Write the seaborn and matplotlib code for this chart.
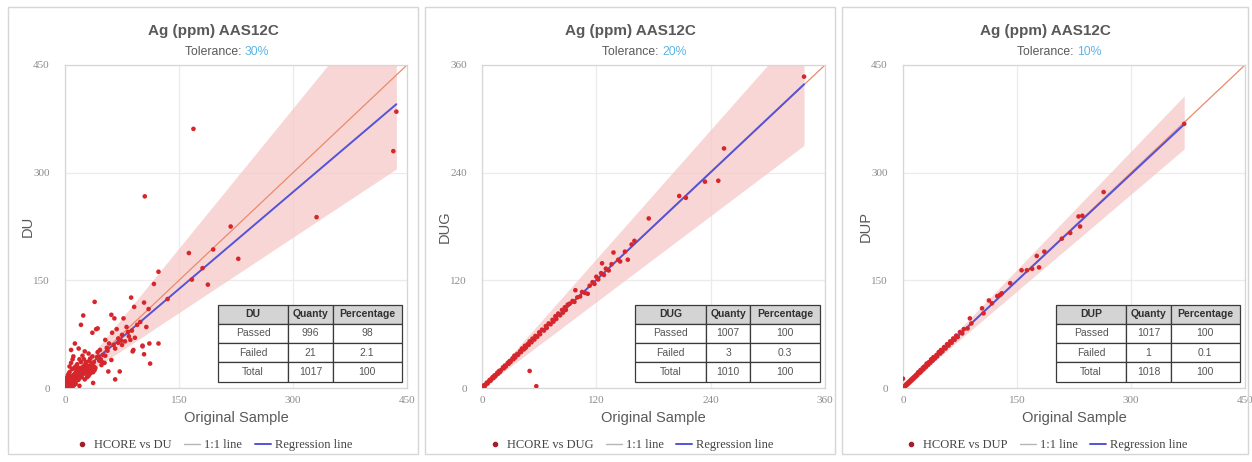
import matplotlib
matplotlib.use("Agg")
import matplotlib.pyplot as plt
from matplotlib.lines import Line2D
from matplotlib.patches import Rectangle
import numpy as np
import seaborn as sns

sns.set_style("white")
plt.rcParams["font.family"] = ["Liberation Sans", "DejaVu Sans"]

# ---------------------------------------------------------------- data
title = "Ag (ppm) AAS12C"
dup_names = ["DU", "DUG", "DUP"]
tolerances = [30, 20, 10]
axis_max = [450, 360, 450]
axis_ticks = [[0, 150, 300, 450], [0, 120, 240, 360], [0, 150, 300, 450]]

# regression line parameters (slope, intercept) for each duplicate type
reg_slope = [0.90, 1.00, 0.99]
reg_intercept = [3.0, 0.5, 1.0]

# summary tables: passed / failed / total
quantity = [[996, 21, 1017], [1007, 3, 1010], [1017, 1, 1018]]
percentage = [["98", "2.1", "100"], ["100", "0.3", "100"], ["100", "0.1", "100"]]

# HCORE (original) vs DU, as (original, duplicate) pairs
du_pairs = [
    (436, 385), (432, 330), (169, 361), (105, 267), (331, 238), (218, 225),
    (163, 188), (195, 193), (228, 180), (181, 167), (167, 151), (188, 144),
    (123, 162), (117, 145), (135, 124), (39, 120), (87, 126), (104, 119),
    (91, 113), (110, 110), (24, 101), (21, 88), (107, 85), (41, 82), (36, 77),
    (102, 59), (123, 62), (111, 62), (89, 51), (104, 47), (112, 34), (66, 12),
    (72, 23), (61, 102), (65, 97), (77, 97), (81, 85), (68, 82), (62, 77),
    (75, 74), (70, 69), (43, 83), (53, 67), (58, 62), (66, 55), (79, 65),
    (86, 67), (75, 60), (102, 58), (90, 53), (57, 23), (13, 62), (18, 55),
    (8, 53), (11, 44), (26, 51), (33, 41), (44, 44), (48, 32), (39, 25),
    (31, 17), (37, 7), (53, 45), (61, 39), (46, 53), (83, 78), (88, 80),
    (95, 88), (99, 92), (92, 70), (84, 72), (74, 66), (70, 63), (64, 60),
    (56, 52), (50, 46), (47, 40), (52, 35), (45, 38), (42, 43), (38, 30),
    (35, 34), (40, 28), (34, 26), (30, 31), (28, 24), (27, 33), (25, 29),
    (23, 20), (22, 27), (20, 18), (19, 25), (18, 15), (17, 22), (16, 19),
    (15, 13), (14, 21), (13, 11), (12, 17), (11, 9), (10, 14), (9, 12),
    (8, 6), (7, 10), (6, 8), (5, 5), (4, 7), (3, 4), (2, 3), (1, 2),
    (2, 6), (3, 9), (4, 2), (5, 11), (6, 3), (7, 14), (8, 5), (9, 16),
    (10, 7), (12, 18), (14, 10), (16, 23), (18, 12), (20, 28), (22, 15),
    (24, 30), (26, 20), (28, 36), (30, 24), (32, 38), (34, 27), (36, 44),
    (6, 30), (8, 1), (10, 2), (12, 4), (14, 6), (3, 8), (5, 8), (7, 12),
    (9, 15), (11, 18), (15, 24), (17, 11), (21, 36), (25, 40), (29, 15),
    (33, 20), (2, 12), (4, 5), (1, 1), (19, 3), (23, 45), (27, 34),
    (31, 48), (37, 22), (43, 50), (49, 36), (55, 56), (4, 18), (6, 22),
    (9, 26), (3, 15), (5, 20), (8, 35), (10, 40), (12, 28), (16, 33),
    (19, 40), (24, 22), (29, 28), (33, 30), (38, 36), (14, 30), (2, 9),
    (7, 4), (11, 6), (13, 20), (17, 28), (21, 17), (26, 12), (31, 22),
]

# HCORE vs DUG
dug_pairs = [
    (1, 1), (2, 3), (3, 2), (4, 4), (5, 6), (6, 5), (7, 7), (8, 9), (9, 8),
    (10, 10), (11, 12), (12, 11), (13, 14), (14, 13), (15, 15), (16, 17),
    (17, 16), (18, 19), (19, 18), (20, 20), (22, 23), (23, 22), (24, 25),
    (25, 24), (27, 28), (28, 27), (29, 30), (30, 29), (32, 33), (33, 32),
    (34, 36), (35, 34), (37, 38), (38, 37), (40, 41), (41, 40), (42, 44),
    (44, 43), (45, 47), (46, 45), (48, 49), (49, 48), (50, 52), (52, 51),
    (53, 55), (55, 54), (56, 58), (58, 57), (60, 62), (61, 60), (63, 65),
    (65, 64), (67, 69), (68, 67), (70, 72), (72, 71), (74, 76), (75, 74),
    (77, 80), (78, 77), (80, 83), (82, 81), (84, 87), (85, 84), (87, 90),
    (88, 87), (90, 93), (92, 94), (95, 97), (97, 96), (98, 109), (100, 101),
    (103, 102), (105, 107), (108, 106), (111, 105), (113, 114), (116, 118),
    (118, 116), (120, 124), (122, 121), (125, 128), (126, 139), (128, 126),
    (130, 133), (133, 131), (136, 138), (138, 151), (143, 143), (145, 141),
    (153, 143), (150, 152), (157, 160), (160, 164), (175, 189), (207, 214),
    (214, 212), (234, 230), (248, 231), (254, 267), (338, 347), (50, 19),
    (57, 2),
]

# HCORE vs DUP
dup_pairs = [
    (0, 13), (1, 2), (2, 1), (3, 3), (4, 5), (5, 4), (6, 7), (7, 6), (8, 9),
    (9, 8), (10, 11), (11, 10), (12, 13), (13, 12), (14, 15), (15, 14),
    (16, 17), (17, 16), (18, 19), (19, 18), (20, 22), (22, 21), (23, 25),
    (24, 23), (26, 28), (27, 26), (28, 30), (30, 29), (31, 34), (33, 32),
    (34, 36), (36, 35), (37, 40), (39, 38), (40, 43), (42, 41), (44, 46),
    (45, 44), (47, 50), (49, 48), (50, 53), (52, 51), (54, 57), (56, 55),
    (58, 61), (60, 59), (62, 65), (64, 63), (66, 69), (68, 67), (70, 73),
    (72, 71), (75, 78), (78, 76), (80, 82), (85, 83), (88, 97), (90, 90),
    (104, 111), (106, 104), (113, 122), (117, 118), (124, 128), (128, 130),
    (130, 132), (141, 146), (156, 164), (163, 164), (170, 166), (176, 184),
    (179, 168), (186, 190), (209, 208), (220, 216), (231, 239), (233, 225),
    (236, 240), (264, 273), (370, 368),
]

series = [du_pairs, dug_pairs, dup_pairs]

# ---------------------------------------------------------------- style
POINT = "#d7262b"
BAND = "#f7c9c9"
ONE_TO_ONE = "#e98a6a"
REG = "#5353d8"
GRID = "#ebebeb"
FRAME = "#d6d6d6"
TEXT = "#595959"
TICK = "#8c8c8c"
BLUE = "#5bb5e6"

W, H = 1252, 462
fig = plt.figure(figsize=(W / 100, H / 100), dpi=100)

panel_left = [8, 425, 842]
panel_width = [410, 410, 406]
axes_left = [65, 482, 903]
axes_w = [342, 343, 342]
axes_top, axes_bottom = 65, 388

for i in range(3):
    # panel frame
    fig.patches.append(Rectangle((panel_left[i] / W, 8 / H), panel_width[i] / W,
                                 447 / H, transform=fig.transFigure, fill=False,
                                 edgecolor=FRAME, linewidth=1.0, zorder=0))

    ax = fig.add_axes([axes_left[i] / W, (H - axes_bottom) / H, axes_w[i] / W,
                       (axes_bottom - axes_top) / H])
    m = axis_max[i]
    tol = tolerances[i] / 100
    pts = np.array(series[i], dtype=float)
    x, y = pts[:, 0], pts[:, 1]
    xe = x.max()

    # tolerance band
    bx = np.array([0.0, xe])
    ax.fill_between(bx, bx * (1 - tol), bx * (1 + tol), color=BAND, alpha=0.75,
                    linewidth=0, zorder=1)
    # 1:1 line
    ax.plot([0, m], [0, m], color=ONE_TO_ONE, linewidth=0.9, zorder=2)
    # regression line
    rx = np.array([0.0, xe])
    ax.plot(rx, reg_slope[i] * rx + reg_intercept[i], color=REG, linewidth=1.4,
            zorder=3)
    sns.scatterplot(x=x, y=y, ax=ax, color=POINT, s=11, edgecolor="none",
                    linewidth=0, zorder=4, legend=False)

    ax.set_xlim(0, m)
    ax.set_ylim(0, m)
    ax.set_xticks(axis_ticks[i])
    ax.set_yticks(axis_ticks[i])
    ax.grid(True, color=GRID, linewidth=0.9)
    ax.set_axisbelow(True)
    for sp in ax.spines.values():
        sp.set_color(FRAME)
        sp.set_linewidth(0.9)
    ax.tick_params(length=0, labelsize=8, labelcolor=TICK)
    ax.tick_params(axis="y", pad=11)
    ax.tick_params(axis="x", pad=6)
    for lab in ax.get_xticklabels() + ax.get_yticklabels():
        lab.set_fontfamily(["Liberation Serif", "DejaVu Serif"])

    ax.set_xlabel("Original Sample", fontsize=10.5, color=TEXT, labelpad=4)
    ax.set_ylabel(dup_names[i], fontsize=10.5, color=TEXT, labelpad=-1)

    # title and tolerance subtitle
    cx = (panel_left[i] + panel_width[i] / 2) / W
    fig.text(cx, (H - 31) / H, title, ha="center", va="center", fontsize=11,
             fontweight="bold", color=TEXT)
    split = cx + 32 / W
    fig.text(split, (H - 52) / H, "Tolerance: ", ha="right", va="center",
             fontsize=8.8, color=TEXT)
    fig.text(split, (H - 52) / H, f"{tolerances[i]}%", ha="left", va="center",
             fontsize=8.8, color=BLUE)

    # summary table
    rows = [["Passed", str(quantity[i][0]), percentage[i][0]],
            ["Failed", str(quantity[i][1]), percentage[i][1]],
            ["Total", str(quantity[i][2]), percentage[i][2]]]
    tbl = ax.table(cellText=rows, colLabels=[dup_names[i], "Quanty", "Percentage"],
                   cellLoc="center", colWidths=[0.383, 0.24, 0.377],
                   bbox=[0.447, 0.02, 0.538, 0.238], zorder=6)
    tbl.auto_set_font_size(False)
    for (r, c), cell in tbl.get_celld().items():
        cell.set_edgecolor("#3a3a3a")
        cell.set_linewidth(0.9)
        cell.get_text().set_fontsize(7.5)
        if r == 0:
            cell.set_facecolor("#d4d4d4")
            cell.get_text().set_fontweight("bold")
            cell.get_text().set_color("#303030")
        else:
            cell.set_facecolor("white")
            cell.get_text().set_color("#555555")

    # legend
    handles = [Line2D([], [], marker="o", linestyle="none", color="#a0202a",
                      markersize=3),
               Line2D([], [], color="#b5b5b5", linewidth=1.0),
               Line2D([], [], color=REG, linewidth=1.4)]
    labels = [f"HCORE vs {dup_names[i]}", "1:1 line", "Regression line"]
    fig.legend(handles, labels, loc="center", bbox_to_anchor=(cx, (H - 445) / H),
               ncol=3, frameon=False, handlelength=1.3, columnspacing=1.0,
               handletextpad=0.3,
               prop={"family": ["Liberation Serif", "DejaVu Serif"], "size": 9},
               labelcolor="#444444")

fig.savefig("out.png", dpi=100, facecolor="white")
